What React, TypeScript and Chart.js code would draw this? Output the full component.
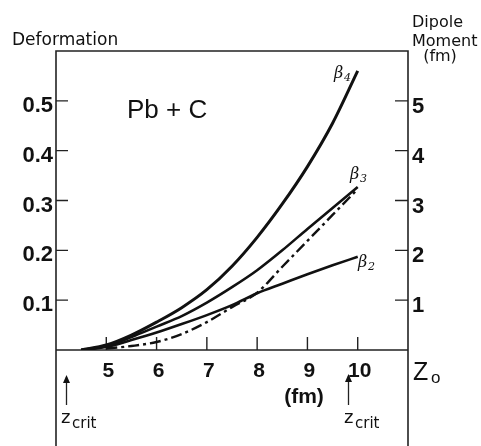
import React, { useEffect, useRef } from "react";
import { Chart, registerables } from "chart.js";

Chart.register(...registerables);

// Abscissa Z0 (fm)
const zValues = [4.5, 5, 5.5, 6, 6.5, 7, 7.5, 8, 8.5, 9, 9.5, 10];
// Deformation parameters
const beta4 = [0, 0.01, 0.03, 0.056, 0.085, 0.121, 0.168, 0.226, 0.293, 0.368, 0.455, 0.56];
const beta3 = [0, 0.008, 0.026, 0.047, 0.068, 0.095, 0.126, 0.16, 0.2, 0.243, 0.285, 0.327];
const beta2 = [0, 0.006, 0.02, 0.035, 0.052, 0.07, 0.09, 0.114, 0.133, 0.152, 0.17, 0.187];
// Dipole moment (fm), right axis
const dipoleZ = [5, 5.5, 6, 6.5, 7, 7.5, 8, 8.5, 9, 9.5, 10];
const dipole = [0.03, 0.08, 0.16, 0.32, 0.56, 0.86, 1.15, 1.67, 2.19, 2.71, 3.23];

const xTicks = [5, 6, 7, 8, 9, 10];
const xTickLabels = ["5", "6", "7", "8", "9", "10"];
const yTicks = [0.1, 0.2, 0.3, 0.4, 0.5];
const yTickLabels = ["0.1", "0.2", "0.3", "0.4", "0.5"];
const y2Ticks = [1, 2, 3, 4, 5];
const y2TickLabels = ["1", "2", "3", "4", "5"];

const pts = (xs: number[], ys: number[]) => xs.map((x, i) => ({ x, y: ys[i] }));

const decorPlugin = {
  id: "decor",
  beforeDatasetsDraw(chart: any) {
    const { ctx, chartArea, scales } = chart;
    const { left, right, top, bottom } = chartArea;
    const H = chart.height;
    ctx.save();
    ctx.strokeStyle = "#222";
    ctx.lineWidth = 1.6;
    ctx.beginPath();
    ctx.moveTo(left, H);
    ctx.lineTo(left, top);
    ctx.lineTo(right, top);
    ctx.lineTo(right, H);
    ctx.moveTo(left, bottom);
    ctx.lineTo(right, bottom);
    ctx.stroke();

    ctx.lineWidth = 1.4;
    ctx.beginPath();
    yTicks.forEach((v) => {
      const py = scales.y.getPixelForValue(v);
      ctx.moveTo(left, py);
      ctx.lineTo(left + 12, py);
    });
    y2Ticks.forEach((v) => {
      const py = scales.y2.getPixelForValue(v);
      ctx.moveTo(right, py);
      ctx.lineTo(right - 13, py);
    });
    xTicks.forEach((v) => {
      const px = scales.x.getPixelForValue(v);
      ctx.moveTo(px, bottom);
      ctx.lineTo(px, bottom - 13);
    });
    ctx.stroke();

    ctx.fillStyle = "#111";
    ctx.font = "bold 22px 'Liberation Sans'";
    ctx.textBaseline = "alphabetic";
    ctx.textAlign = "right";
    yTicks.forEach((v, i) => {
      const py = scales.y.getPixelForValue(v);
      ctx.fillText(yTickLabels[i], left - 3, py + 11);
    });
    ctx.textAlign = "left";
    y2Ticks.forEach((v, i) => {
      const py = scales.y2.getPixelForValue(v);
      ctx.fillText(y2TickLabels[i], right + 4, py + 12);
    });
    ctx.font = "bold 21px 'Liberation Sans'";
    ctx.textAlign = "center";
    xTicks.forEach((v, i) => {
      const px = scales.x.getPixelForValue(v);
      ctx.fillText(xTickLabels[i], px + 2, bottom + 27);
    });
    ctx.fillText("(fm)", 304, 403);

    // Z0
    ctx.font = "25px 'Liberation Sans'";
    ctx.textAlign = "left";
    ctx.fillText("Z", 413, 380);
    ctx.font = "17px 'Liberation Sans'";
    ctx.fillText("o", 431, 383);

    // Pb + C
    ctx.font = "26px 'Liberation Sans'";
    ctx.fillText("Pb + C", 127, 118);

    // axis titles
    ctx.font = "17px 'DejaVu Sans'";
    ctx.fillText("Deformation", 12, 45);
    ctx.font = "16px 'DejaVu Sans'";
    ctx.fillText("Dipole", 412, 27);
    ctx.fillText("Moment", 412, 46);
    ctx.textAlign = "center";
    ctx.fillText("(fm)", 440, 61);

    // Zcrit arrows
    const arrow = (x: number, y1: number, y2: number) => {
      ctx.beginPath();
      ctx.lineWidth = 1.3;
      ctx.moveTo(x, y2);
      ctx.lineTo(x, y1 + 2);
      ctx.stroke();
      ctx.beginPath();
      ctx.moveTo(x, y1);
      ctx.lineTo(x - 3.5, y1 + 8);
      ctx.lineTo(x + 3.5, y1 + 8);
      ctx.closePath();
      ctx.fill();
    };
    arrow(66.5, 375, 405);
    arrow(348.5, 374, 405);
    const zcrit = (x: number) => {
      ctx.textAlign = "left";
      ctx.font = "18px 'DejaVu Sans'";
      ctx.fillText("z", x, 423);
      ctx.font = "15px 'DejaVu Sans'";
      ctx.fillText("crit", x + 11, 428);
    };
    zcrit(61);
    zcrit(344);

    // beta labels
    const beta = (x: number, y: number, sub: string) => {
      ctx.textAlign = "left";
      ctx.font = "italic 16px 'DejaVu Serif'";
      ctx.fillText("β", x, y);
      ctx.font = "italic 11px 'DejaVu Serif'";
      ctx.fillText(sub, x + 10, y + 3);
    };
    beta(334, 78, "4");
    beta(350, 179, "3");
    beta(358, 267, "2");
    ctx.restore();
  },
};

export default function App() {
  const ref = useRef<HTMLCanvasElement>(null);
  useEffect(() => {
    if (!ref.current) return;
    const line = { borderColor: "#111", pointRadius: 0, fill: false, cubicInterpolationMode: "monotone" as const };
    const chart = new Chart(ref.current, {
      type: "line",
      data: {
        datasets: [
          { ...line, label: "β4", data: pts(zValues, beta4), borderWidth: 3, yAxisID: "y" },
          { ...line, label: "β3", data: pts(zValues, beta3), borderWidth: 2.6, yAxisID: "y" },
          { ...line, label: "β2", data: pts(zValues, beta2), borderWidth: 2.6, yAxisID: "y" },
          {
            ...line,
            label: "Dipole moment",
            data: pts(dipoleZ, dipole),
            borderWidth: 2.4,
            borderDash: [11, 4, 3, 4],
            yAxisID: "y2",
          },
        ],
      },
      options: {
        responsive: false,
        animation: false,
        devicePixelRatio: 1,
        layout: { padding: { left: 56, top: 51, right: 73, bottom: 96 } },
        scales: {
          x: { type: "linear", min: 4, max: 11, display: false },
          y: { type: "linear", min: 0, max: 0.6, display: false },
          y2: { type: "linear", min: 0, max: 6, display: false, position: "right" },
        },
        plugins: { legend: { display: false }, tooltip: { enabled: false } },
      },
      plugins: [decorPlugin],
    });
    return () => chart.destroy();
  }, []);
  return (
    <div style={{ position: "fixed", left: 0, top: 0, width: 481, height: 446, background: "#fff" }}>
      <canvas ref={ref} width={481} height={446} style={{ display: "block", width: 481, height: 446 }} />
    </div>
  );
}
